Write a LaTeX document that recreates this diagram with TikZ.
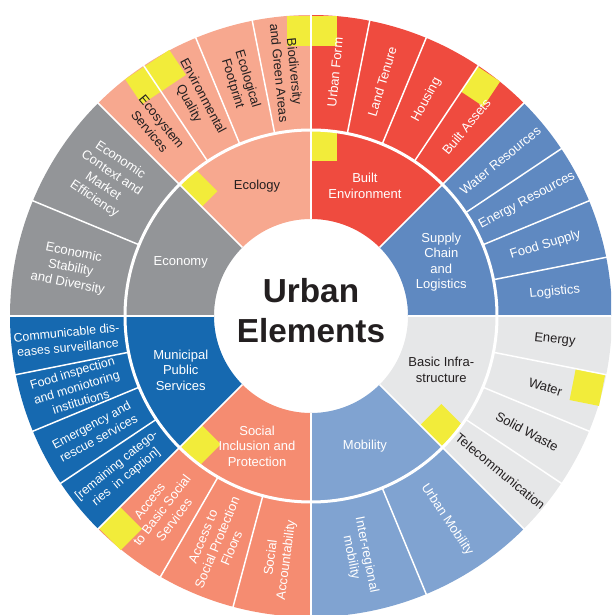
\documentclass[tikz,border=0pt]{standalone}
\usepackage{fontspec}
\setmainfont{Liberation Sans}
\definecolor{ecologycol}{HTML}{F7A88F}
\definecolor{builtcol}{HTML}{EF4B3F}
\definecolor{supplycol}{HTML}{5F89C1}
\definecolor{infracol}{HTML}{E6E7E8}
\definecolor{mobilitycol}{HTML}{80A3D1}
\definecolor{socialcol}{HTML}{F58C71}
\definecolor{municol}{HTML}{1669B0}
\definecolor{economycol}{HTML}{939598}
\definecolor{markcol}{HTML}{F2EC3A}
\definecolor{textdark}{HTML}{231F20}
% yellow note mark: edge angle, outer radius, width (+ ccw, - cw)
\newcommand{\notemark}[3]{\fill[markcol, rotate=#1] ({#2-30},0) rectangle (#2,#3);}

\begin{document}
\begin{tikzpicture}[x=1pt, y=1pt,
    sep/.style={white, line width=1.5pt},
    lbl/.style={font=\fontsize{13}{15.5}\selectfont, align=center, inner sep=0pt, text=white},
    lbldark/.style={lbl, text=textdark},
    lblsmall/.style={lbl, font=\fontsize{12.4}{15}\selectfont}]
\useasboundingbox (-311,-299) rectangle (300,316);
\clip (-311,-299) rectangle (300,316);

% sectors, inner and outer ring in one colour
\foreach \s/\col in {90/ecologycol, 135/economycol, 180/municol, 225/socialcol, 270/mobilitycol, 315/infracol, 0/supplycol, 45/builtcol}
  \fill[\col] (\s:97) -- (\s:301) arc[start angle=\s, delta angle=45, radius=301] -- ({\s+45}:97) arc[start angle={\s+45}, delta angle=-45, radius=97] -- cycle;

% note marks
\notemark{90}{300}{24}
\notemark{90}{300}{-26}
\notemark{90}{184.5}{-26}
\notemark{56.25}{300}{-27}
\notemark{-11.25}{300}{-32}
\notemark{-45}{184.5}{30}
\notemark{135}{184.5}{-22}
\notemark{123.75}{300}{-30}
\notemark{123.75}{300}{23}
\notemark{225}{184.5}{27}
\notemark{225}{300}{31}

% separators
\foreach \a in {0,45,...,315}
  \draw[sep] (\a:97) -- (\a:303);
\foreach \a in {11.25,22.5,33.75,56.25,67.5,78.75,101.25,112.5,123.75,157.5,191.25,202.5,213.75,240,255,292.5,-11.25,-22.5,-33.75}
  \draw[sep] (\a:186) -- (\a:303);
\draw[white, line width=3pt] (0,0) circle[radius=186];

% centre
\node[font=\fontsize{33.3}{40}\selectfont\bfseries, align=center, text=textdark] (title) at (0,5) {Urban\\Elements};

% inner ring
\node[lbldark] (ecology) at (112.5:141) {Ecology};
\node[lbl] (built) at (67.5:141) {Built\\Environment};
\node[lbl] (supply) at (22.5:141) {Supply\\Chain\\and\\Logistics};
\node[lbldark] (infra) at (-22.5:141) {Basic Infra-\\structure};
\node[lbl] (mobility) at (-67.5:141) {Mobility};
\node[lbl] (social) at (247.5:141) {Social\\Inclusion and\\Protection};
\node[lbl] (muni) at (202.5:141) {Municipal\\Public\\Services};
\node[lbl] (economy) at (157.5:141) {Economy};

% outer ring
\foreach \a/\t [count=\i] in {95.625/{Biodiversity\\and Green Areas}, 106.875/{Ecological\\Footprint}, 118.125/{Environmental\\Quality}, 129.375/{Ecosystem\\Services}}
  \node[lbldark, rotate={\a-180}] (eco\i) at (\a:245) {\t};
\foreach \a/\t [count=\i] in {84.375/{Urban Form}, 73.125/{Land Tenure}, 61.875/{Housing}, 50.625/{Built Assets}}
  \node[lbl, rotate=\a] (bui\i) at (\a:245) {\t};
\foreach \a/\t [count=\i] in {39.375/{Water Resources}, 28.125/{Energy Resources}, 16.875/{Food Supply}, 5.625/{Logistics}}
  \node[lbl, rotate=\a] (sup\i) at (\a:245) {\t};
\foreach \a/\t [count=\i] in {-5.625/{Energy}, -16.875/{Water}, -28.125/{Solid Waste}, -39.375/{Telecommunication}}
  \node[lbldark, rotate=\a] (inf\i) at (\a:245) {\t};
\foreach \a/\t [count=\i] in {-78.75/{Inter-regional\\mobility}, -56.25/{Urban Mobility}}
  \node[lbl, rotate=\a] (mob\i) at (\a:245) {\t};
\foreach \a/\t [count=\i] in {232.5/{Access\\to Basic Social\\Services}, 247.5/{Access to\\Social Protection\\Floors}, 262.5/{Social\\Accountability}}
  \node[lbl, rotate={\a-180}] (soc\i) at (\a:245) {\t};
\foreach \a/\t [count=\i] in {185.625/{Communicable dis-\\eases surveillance}, 196.875/{Food inspection\\and moniotoring\\institutions}, 208.125/{Emergency and\\rescue services}, 219.375/{[remaining catego-\\ries\ \ in caption]}}
  \node[lblsmall, rotate={\a-180}] (mun\i) at (\a:245) {\t};
\foreach \a/\t [count=\i] in {146.25/{Economic\\Context and\\Market\\Efficiency}, 168.75/{Economic\\Stability\\and Diversity}}
  \node[lbl, rotate={\a-180}] (ecn\i) at (\a:245) {\t};
\end{tikzpicture}
\end{document}
